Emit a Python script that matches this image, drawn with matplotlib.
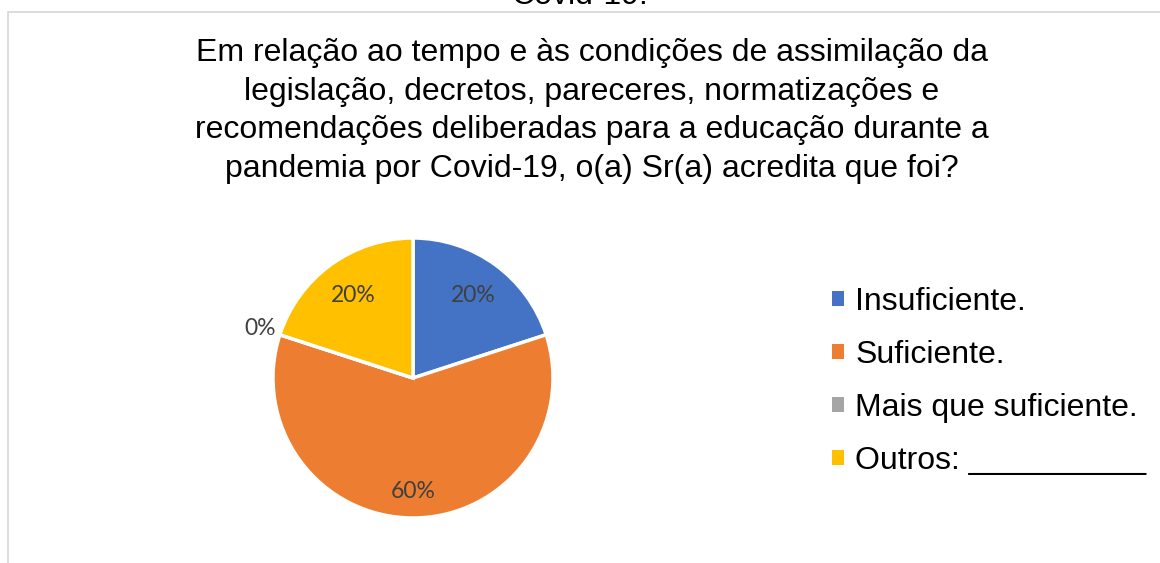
import matplotlib
matplotlib.use("Agg")
import matplotlib.pyplot as plt
from matplotlib.patches import Rectangle, Patch
import numpy as np

categories = ["Insuficiente.", "Suficiente.", "Mais que suficiente.", "Outros: __________"]
values = [20, 60, 0, 20]
colors = ["#4472C4", "#ED7D31", "#A5A5A5", "#FFC000"]
title_text = ("Em relação ao tempo e às condições de assimilação da\n"
              "legislação, decretos, pareceres, normatizações e\n"
              "recomendações deliberadas para a educação durante a\n"
              "pandemia por Covid-19, o(a) Sr(a) acredita que foi?")
top_cut_text = "Covid-19."

W, H = 1160, 563
fig = plt.figure(figsize=(W / 100, H / 100), dpi=100)
fig.patch.set_facecolor("white")

# chart frame
fig.add_artist(Rectangle((8 / W, -0.1), 1.2, 1 - 12 / H + 0.1, transform=fig.transFigure,
                         fill=False, edgecolor="#D9D9D9", linewidth=1.3))

fig.text(580 / W, 1 + 4 / H, top_cut_text, ha="center", va="center",
         fontsize=23, family="Liberation Sans", color="black")
fig.text(592 / W, 1 - 111 / H, title_text, ha="center", va="center",
         fontsize=23, family="Liberation Sans", color="black", linespacing=1.37)

cx, cy, r = 413, 378, 140
ax = fig.add_axes([(cx - r) / W, (H - cy - r) / H, 2 * r / W, 2 * r / H])
wedges, _ = ax.pie(values, colors=colors, startangle=90, counterclock=False,
                   radius=1, wedgeprops=dict(edgecolor="white", linewidth=2.5))
ax.set_xlim(-1, 1)
ax.set_ylim(-1, 1)
ax.set_aspect("equal")
ax.axis("off")

dists = [0.73, 0.81, 1.15, 0.73]
for w, v, d in zip(wedges, values, dists):
    ang = np.deg2rad((w.theta1 + w.theta2) / 2)
    ax.text(d * np.cos(ang), d * np.sin(ang), f"{v}%", ha="center", va="center",
            fontsize=16.5, family="Lato", color="#404040", clip_on=False)

handles = [Patch(facecolor=c, edgecolor="none") for c in colors]
fig.legend(handles, categories, loc="upper left", bbox_to_anchor=(832 / W, 1 - 287 / H),
           frameon=False, prop=dict(family="Liberation Sans", size=23),
           handlelength=0.38, handleheight=0.38, handletextpad=0.35,
           labelspacing=0.72, borderaxespad=0, borderpad=0)

fig.savefig("out.png", dpi=100)
